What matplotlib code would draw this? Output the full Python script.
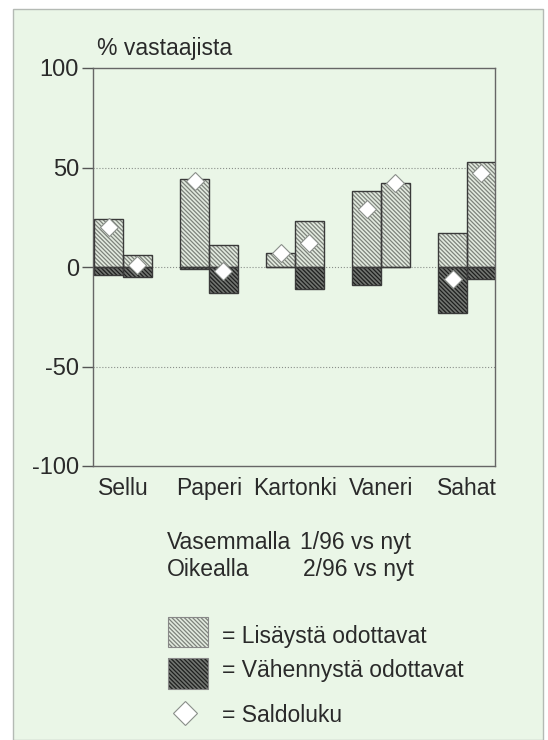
import numpy as np
import matplotlib
matplotlib.use('Agg')
import matplotlib.pyplot as plt
from matplotlib.patches import Rectangle
from matplotlib.lines import Line2D

categories = ['Sellu', 'Paperi', 'Kartonki', 'Vaneri', 'Sahat']
# vasen palkki = 1/96 vs nyt, oikea = 2/96 vs nyt
lisays_1 = [24, 44, 7, 38, 17]
lisays_2 = [6, 11, 23, 42, 53]
vahennys_1 = [-4, -1, 0, -9, -23]
vahennys_2 = [-5, -13, -11, 0, -6]
saldo_1 = [20, 43, 7, 29, -6]
saldo_2 = [1, -2, 12, 42, 47]
yticks = [100, 50, 0, -50, -100]

plt.rcParams['font.family'] = ['Liberation Sans', 'DejaVu Sans']
plt.rcParams['hatch.linewidth'] = 0.9

W, H = 548, 740
bg = '#eaf6e7'
pos_face, pos_hatch = '#e2eadf', '#7d827b'
neg_face, neg_hatch = '#727571', '#1e1f1e'
edge = '#3a3a3a'
txt = '#2a2a2a'
fs = 16.5
hatch = '\\' * 8

fig = plt.figure(figsize=(W / 100, H / 100), dpi=100)
fig.patch.set_facecolor('white')

def fx(x):
    return x / W

def fy(y):
    return 1 - y / H

# vaalea tausta-alue
fig.add_artist(Rectangle((fx(13), 0), fx(543) - fx(13), fy(9), transform=fig.transFigure,
                         facecolor=bg, edgecolor='#b4bab4', lw=1.0, zorder=0))

ax = fig.add_axes([fx(93), fy(466), fx(495) - fx(93), fy(68) - fy(466)])
ax.set_facecolor(bg)

x = np.arange(len(categories))
w = 0.333

def bars(xs, vals, face, hcol):
    ax.bar(xs, vals, w, facecolor=face, edgecolor=hcol, hatch=hatch, lw=0, zorder=2)
    ax.bar(xs, vals, w, fill=False, edgecolor=edge, lw=1.0, zorder=3)

bars(x - w / 2, lisays_1, pos_face, pos_hatch)
bars(x + w / 2, lisays_2, pos_face, pos_hatch)
bars(x - w / 2, vahennys_1, neg_face, neg_hatch)
bars(x + w / 2, vahennys_2, neg_face, neg_hatch)

mk = dict(marker='D', ms=9, mfc='white', mec='#8a8f8a', mew=0.8, ls='none', zorder=5)
ax.plot(x - w / 2, saldo_1, **mk)
ax.plot(x + w / 2, saldo_2, **mk)

for yv in [50, 0, -50]:
    ax.axhline(yv, color='#8a8f8a', lw=0.8, ls=':', zorder=1)

ax.set_ylim(-100, 100)
ax.set_xlim(-30 / 86, 4 + 28 / 86)
ax.set_yticks(yticks)
ax.set_yticklabels([str(v) for v in yticks])
ax.set_xticks(x)
ax.set_xticklabels(categories)
ax.tick_params(axis='y', length=8, width=1, color='#555555', pad=2, labelsize=17, labelcolor=txt)
ax.tick_params(axis='x', length=0, pad=8, labelsize=fs, labelcolor=txt)
for s in ax.spines.values():
    s.set_color('#666666')
    s.set_linewidth(1.0)

fig.text(fx(97), fy(55), '% vastaajista', fontsize=fs, color=txt, va='baseline')

fig.text(fx(167), fy(549), 'Vasemmalla', fontsize=fs, color=txt, va='baseline')
fig.text(fx(300), fy(549), '1/96 vs nyt', fontsize=fs, color=txt, va='baseline')
fig.text(fx(167), fy(576), 'Oikealla', fontsize=fs, color=txt, va='baseline')
fig.text(fx(303), fy(576), '2/96 vs nyt', fontsize=fs, color=txt, va='baseline')

# selite
for (y0, y1), face, hcol in [((617, 647), pos_face, pos_hatch), ((658, 689), neg_face, neg_hatch)]:
    fig.add_artist(Rectangle((fx(168), fy(y1)), fx(208) - fx(168), fy(y0) - fy(y1),
                             transform=fig.transFigure, facecolor=face, edgecolor=hcol,
                             hatch=hatch, lw=0))
    fig.add_artist(Rectangle((fx(168), fy(y1)), fx(208) - fx(168), fy(y0) - fy(y1),
                             transform=fig.transFigure, fill=False, edgecolor='#888888', lw=0.8))
fig.add_artist(Line2D([fx(185)], [fy(713)], transform=fig.transFigure, marker='D', ms=12,
                      mfc='white', mec='#8a8f8a', mew=0.8, ls='none'))

fig.text(fx(222), fy(643), '= Lisäystä odottavat', fontsize=fs, color=txt, va='baseline')
fig.text(fx(222), fy(677), '= Vähennystä odottavat', fontsize=fs, color=txt, va='baseline')
fig.text(fx(222), fy(722), '= Saldoluku', fontsize=fs, color=txt, va='baseline')

fig.savefig('out.png', dpi=100, facecolor=fig.get_facecolor())
